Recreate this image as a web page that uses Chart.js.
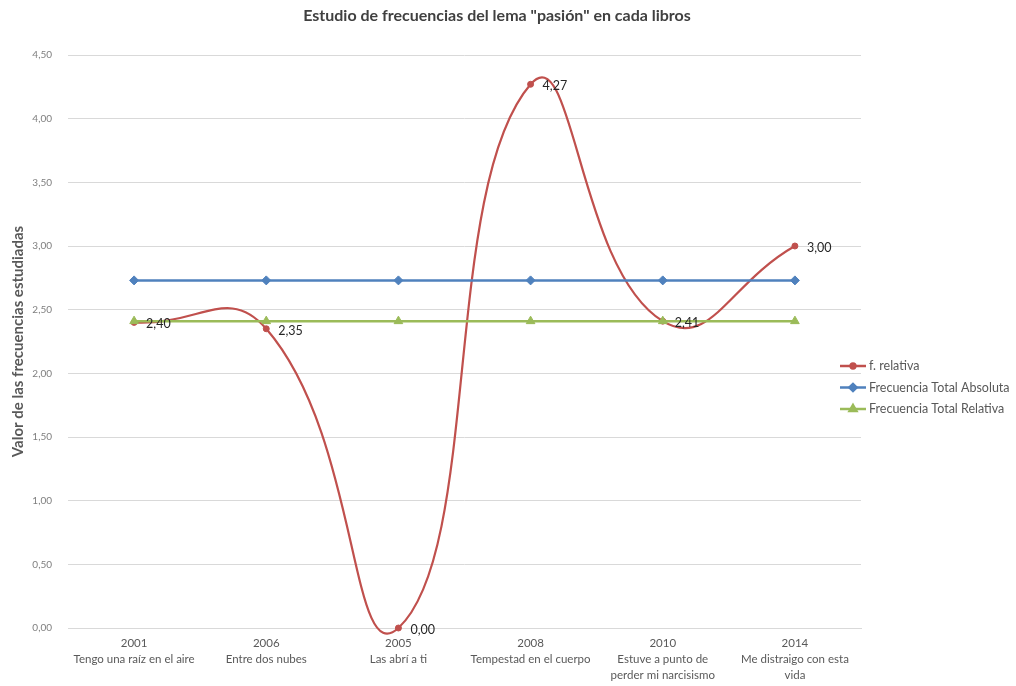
<!DOCTYPE html>
<html>
<head>
<meta charset="utf-8">
<script src="https://cdn.jsdelivr.net/npm/chart.js@4/dist/chart.umd.min.js"></script>
<style>
  html, body { margin: 0; padding: 0; background: #ffffff; }
  #wrap { width: 1016px; height: 686px; position: relative; }
</style>
</head>
<body>
<div id="wrap"><canvas id="chart" width="1016" height="686"></canvas></div>
<script>
// Libros estudiados (año + título)
const years = ['2001', '2006', '2005', '2008', '2010', '2014'];
const books = [
  ['Tengo una raíz en el aire'],
  ['Entre dos nubes'],
  ['Las abrí a ti'],
  ['Tempestad en el cuerpo'],
  ['Estuve a punto de', 'perder mi narcisismo'],
  ['Me distraigo con esta', 'vida']
];

// Frecuencias del lema "pasión"
const relativa = [2.40, 2.35, 0.00, 4.27, 2.41, 3.00];
const totalAbsoluta = [2.73, 2.73, 2.73, 2.73, 2.73, 2.73];
const totalRelativa = [2.41, 2.41, 2.41, 2.41, 2.41, 2.41];

const seriesNames = ['f. relativa', 'Frecuencia Total Absoluta', 'Frecuencia Total Relativa'];
const yTicks = [0, 0.5, 1, 1.5, 2, 2.5, 3, 3.5, 4, 4.5];

const chartTitle = 'Estudio de frecuencias del lema "pasión" en cada libros';
const yTitle = 'Valor de las frecuencias estudiadas';

const FONT = 'Lato, "Open Sans", sans-serif';
const RED = '#c0504d', BLUE = '#4f81bd', GREEN = '#9bbb59';

const labels = years.map((y, i) => [y].concat(books[i]));
const fmt = v => v.toFixed(2).replace('.', ',');

// Título, etiquetas de datos y leyenda dibujados a mano
const decorPlugin = {
  id: 'decor',
  afterDraw(chart) {
    const ctx = chart.ctx;
    ctx.save();
    // título
    ctx.fillStyle = '#404040';
    ctx.font = 'bold 16px ' + FONT;
    ctx.textAlign = 'center';
    ctx.textBaseline = 'middle';
    ctx.fillText(chartTitle, 497, 16);

    // etiquetas de datos de la serie relativa
    const meta = chart.getDatasetMeta(0);
    ctx.font = '12.5px ' + FONT;
    ctx.fillStyle = '#262626';
    ctx.textAlign = 'left';
    meta.data.forEach((pt, i) => {
      ctx.fillText(fmt(relativa[i]), pt.x + 12, pt.y + 2);
    });

    // leyenda
    const items = chart.data.datasets;
    const lx = 840, ly = 366, gap = 21.5;
    ctx.font = '12.5px ' + FONT;
    ctx.textBaseline = 'middle';
    items.forEach((ds, i) => {
      const y = ly + i * gap;
      ctx.strokeStyle = ds.borderColor;
      ctx.lineWidth = 2.5;
      ctx.beginPath();
      ctx.moveTo(lx, y);
      ctx.lineTo(lx + 26, y);
      ctx.stroke();
      Chart.helpers.drawPoint(ctx, {
        pointStyle: ds.pointStyle, radius: ds.pointRadius * 0.8, rotation: 0, borderWidth: 1
      }, lx + 13, y);
      ctx.fillStyle = ds.backgroundColor;
      ctx.fill();
      ctx.fillStyle = '#595959';
      ctx.fillText(seriesNames[i], lx + 29, y);
    });
    ctx.restore();
  }
};

new Chart(document.getElementById('chart'), {
  type: 'line',
  data: {
    labels: labels,
    datasets: [
      {
        label: seriesNames[0],
        data: relativa,
        borderColor: RED,
        backgroundColor: RED,
        borderWidth: 2.2,
        tension: 0.5,
        pointStyle: 'circle',
        pointRadius: 3,
        pointBorderWidth: 1,
        clip: false,
        order: 3
      },
      {
        label: seriesNames[1],
        data: totalAbsoluta,
        borderColor: BLUE,
        backgroundColor: BLUE,
        borderWidth: 2.5,
        tension: 0,
        pointStyle: 'rectRot',
        pointRadius: 4.5,
        pointBorderWidth: 1,
        order: 2
      },
      {
        label: seriesNames[2],
        data: totalRelativa,
        borderColor: GREEN,
        backgroundColor: GREEN,
        borderWidth: 2.5,
        tension: 0,
        pointStyle: 'triangle',
        pointRadius: 5,
        pointBorderWidth: 1,
        order: 1
      }
    ]
  },
  options: {
    responsive: false,
    animation: false,
    devicePixelRatio: 1,
    layout: { padding: { top: 55, right: 155, left: 0, bottom: 0 } },
    elements: { line: { capBezierPoints: false } },
    plugins: {
      legend: { display: false },
      title: { display: false },
      tooltip: { enabled: false }
    },
    scales: {
      x: {
        offset: true,
        grid: { display: false, drawTicks: false },
        border: { display: true, color: '#d9d9d9', width: 1 },
        ticks: {
          color: '#595959',
          font: { family: FONT, size: 11.5, lineHeight: 1.4 },
          padding: 7,
          maxRotation: 0,
          autoSkip: false
        },
        afterFit(scale) { scale.height = 58; }
      },
      y: {
        min: 0,
        max: 4.5,
        afterBuildTicks(scale) { scale.ticks = yTicks.map(v => ({ value: v })); },
        grid: { color: '#d9d9d9', drawTicks: false, lineWidth: 1 },
        border: { display: false },
        ticks: {
          color: '#7f7f7f',
          font: { family: FONT, size: 10 },
          padding: 16,
          callback: v => fmt(v)
        },
        title: {
          display: true,
          text: yTitle,
          color: '#595959',
          font: { family: FONT, size: 15, weight: 'bold' },
          padding: { top: 9 }
        },
        afterFit(scale) { scale.width = 68; }
      }
    }
  },
  plugins: [decorPlugin]
});
</script>
</body>
</html>
